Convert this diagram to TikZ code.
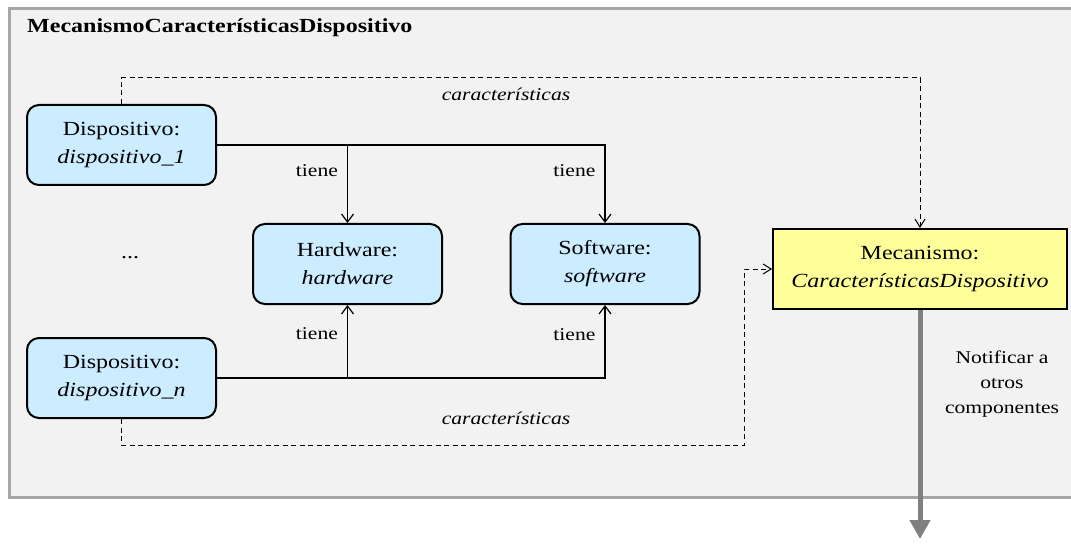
\documentclass[tikz,border=0pt]{standalone}
\usepackage{fontspec}
\setmainfont{Liberation Serif}[FakeStretch=1.2]
\usetikzlibrary{arrows.meta,calc}
\definecolor{panelfill}{RGB}{242,242,242}
\definecolor{panelline}{RGB}{166,166,166}
\definecolor{entityfill}{RGB}{204,236,255}
\definecolor{mechfill}{RGB}{255,255,153}
\definecolor{notifygray}{RGB}{128,128,128}

\begin{document}
\begin{tikzpicture}[x=1pt,y=-1pt,
  entity/.style={draw=black, line width=2pt, fill=entityfill, rounded corners=12pt,
    minimum width=189pt, minimum height=80pt, align=center, inner sep=0pt,
    font=\fontsize{20}{28}\selectfont},
  mech/.style={draw=black, line width=2pt, fill=mechfill,
    minimum width=294pt, minimum height=80pt, align=center, inner sep=0pt,
    font=\fontsize{20}{28}\selectfont},
  has/.style={line width=1.2pt, -{Straight Barb[length=8pt,width=12pt]}},
  feeds/.style={line width=1pt, dash pattern=on 5pt off 3.5pt,
    -{Straight Barb[length=8pt,width=10pt]}},
  lbl/.style={font=\fontsize{18}{25}\selectfont, inner sep=1pt},
]
\useasboundingbox (0,0) rectangle (1071,548);

% panel
\fill[panelfill] (9,9) rectangle (1071,497);
\draw[panelline, line width=3pt] (1071,9) -- (9,9) -- (9,497) -- (1071,497);
\node[anchor=base west, inner sep=0pt, font=\fontsize{20}{24}\selectfont\bfseries]
  (title) at (27,33) {MecanismoCaracterísticasDispositivo};

% entities
\node[entity] (disp1) at (121.5,145) {Dispositivo:\\\textit{dispositivo\_1}};
\node[entity] (dispn) at (121.5,378) {Dispositivo:\\\textit{dispositivo\_n}};
\node[entity] (hw) at (347.5,264) {Hardware:\\\textit{hardware}};
\node[entity] (sw) at (605,264) {Software:\\\textit{software}};
\node[mech] (mec) at (920,269) {Mecanismo:\\\textit{CaracterísticasDispositivo}};
\node[font=\fontsize{20}{24}\selectfont] (dots) at (130,258) {...};

% "tiene" relations
\draw[has] (disp1.east) -| (sw.north) node[lbl, pos=0.665, left=8pt] {tiene};
\draw[has] (hw.north |- disp1.east) -- (hw.north) node[lbl, pos=0.33, left=8pt] {tiene};
\draw[has] (dispn.east) -| (sw.south) node[lbl, pos=0.80, left=8pt] {tiene};
\draw[has] (hw.south |- dispn.east) -- (hw.south) node[lbl, pos=0.61, left=8pt] {tiene};

% feature flows into the mechanism
\coordinate (topjog) at (121.5,78);
\coordinate (botjog) at (744,445);
\draw[feeds] (disp1.north) -- (topjog) -| (mec.north);
\draw[feeds] (dispn.south) |- (botjog) |- (mec.west);
\node[lbl, anchor=base] (feat1) at (506,101) {\textit{características}};
\node[lbl, anchor=base] (feat2) at (506,424) {\textit{características}};

% notification output
\coordinate (out) at (920,539);
\draw[notifygray, line width=5pt, -{Triangle[length=19pt,width=20pt]}] (mec.south) -- (out);
\node[lbl, align=center] (notif) at (1002,384) {Notificar a\\otros\\componentes};
\end{tikzpicture}
\end{document}
